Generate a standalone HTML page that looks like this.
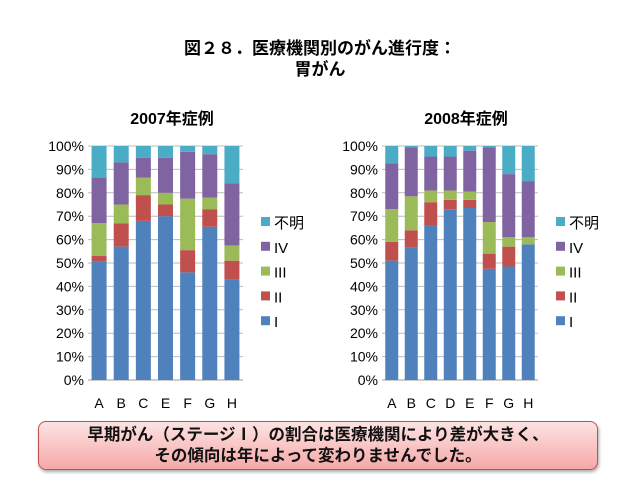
<!DOCTYPE html>
<html><head><meta charset="utf-8"><style>
body{margin:0;width:640px;height:480px;background:#fff;overflow:hidden;font-family:"Liberation Sans","Noto Sans CJK JP",sans-serif}
#box{position:absolute;left:38px;top:421px;width:560px;height:49px;border:1px solid #c0504d;border-radius:8px;background:linear-gradient(#fde3e3,#f6a8a8);box-shadow:1px 2px 3px #aaa;text-align:center;font-size:16.5px;font-weight:bold;line-height:21px;padding-top:3px;box-sizing:border-box;color:#111}
</style></head><body>
<svg width="640" height="480" style="position:absolute;left:0;top:0" font-family="Liberation Sans, Noto Sans CJK JP, sans-serif">
<text x="320" y="54" text-anchor="middle" font-size="17" font-weight="bold">図２８．医療機関別のがん進行度：</text>
<text x="320" y="75" text-anchor="middle" font-size="17" font-weight="bold">胃がん</text>
<g id="c1"></g><g id="c2"></g>
</svg>
<div id="box">早期がん（ステージⅠ）の割合は医療機関により差が大きく、<br>その傾向は年によって変わりませんでした。</div>
<script>
const cats1=["A","B","C","E","F","G","H"];
const s1_I=[50.5,57,68,70,46,65.5,43];
const s1_II=[2.5,10,11,5,9.5,7.5,8];
const s1_III=[14,8,7.5,5,22,5,6.5];
const s1_IV=[19.5,18,8.5,15,20,18.5,26.5];
const s1_U=[13.5,7,5,5,2.5,3.5,16];
const cats2=["A","B","C","D","E","F","G","H"];
const s2_I=[51,56.5,66,73,73.5,47.5,48.5,58];
const s2_II=[8,7.5,10,4,3.5,6.5,8.5,0];
const s2_III=[14,14.5,5,4,3.5,13.5,4,3];
const s2_IV=[19.5,21,14.5,14.5,17.5,32,27,24];
const s2_U=[7.5,0.5,4.5,4.5,2,0.5,12,15];
const ticks=["0%","10%","20%","30%","40%","50%","60%","70%","80%","90%","100%"];
const colors=["#4f81bd","#c0504d","#9bbb59","#8064a2","#4bacc6"];
const names=["I","II","III","IV","不明"];
const NS="http://www.w3.org/2000/svg";
function mk(p,t,a){const e=document.createElementNS(NS,t);for(const k in a)e.setAttribute(k,a[k]);p.appendChild(e);return e;}
function draw(g,title,cats,series,L,R,bw,legX,tx){
  const T=146,B=380;const y=v=>B-(v/100)*(B-T);
  const step=(R-L)/cats.length;const x=i=>L+step*(i+0.5);
  let t=mk(g,"text",{x:tx,y:124,"text-anchor":"middle","font-size":"16","font-weight":"bold"});t.textContent=title;
  
  
  ticks.forEach((s,i)=>{const yy=y(i*10);
    const l=mk(g,"line",{x1:L,x2:R,y1:yy,y2:yy,stroke:i==0?"#999":"#bbb","stroke-width":1});
    
    
    const tt=mk(g,"text",{x:L-4,y:yy+5,"text-anchor":"end","font-size":"14"});tt.textContent=s;
    
    });
  cats.forEach((c,i)=>{let acc=0;
    series.forEach((s,k)=>{const v=s[i];
      const r=mk(g,"rect",{x:x(i)-bw/2,y:y(acc+v),width:bw,height:y(acc)-y(acc+v),fill:colors[k]});
      
      
      acc+=v;});
    const ct=mk(g,"text",{x:x(i),y:408,"text-anchor":"middle","font-size":"14"});ct.textContent=c;
    
    });
  for(let k=4;k>=0;k--){const yy=223+(4-k)*24.8;
    const r=mk(g,"rect",{x:legX,y:yy-6,width:9,height:9,fill:colors[k]});
    
    
    const lt=mk(g,"text",{x:legX+13,y:yy+5,"font-size":"15"});lt.textContent=names[k];
    
    }
}
draw(document.getElementById("c1"),"2007年症例",cats1,[s1_I,s1_II,s1_III,s1_IV,s1_U],88,243,15,261,172);
draw(document.getElementById("c2"),"2008年症例",cats2,[s2_I,s2_II,s2_III,s2_IV,s2_U],382,538,13,556,466);
</script>
</body></html>
